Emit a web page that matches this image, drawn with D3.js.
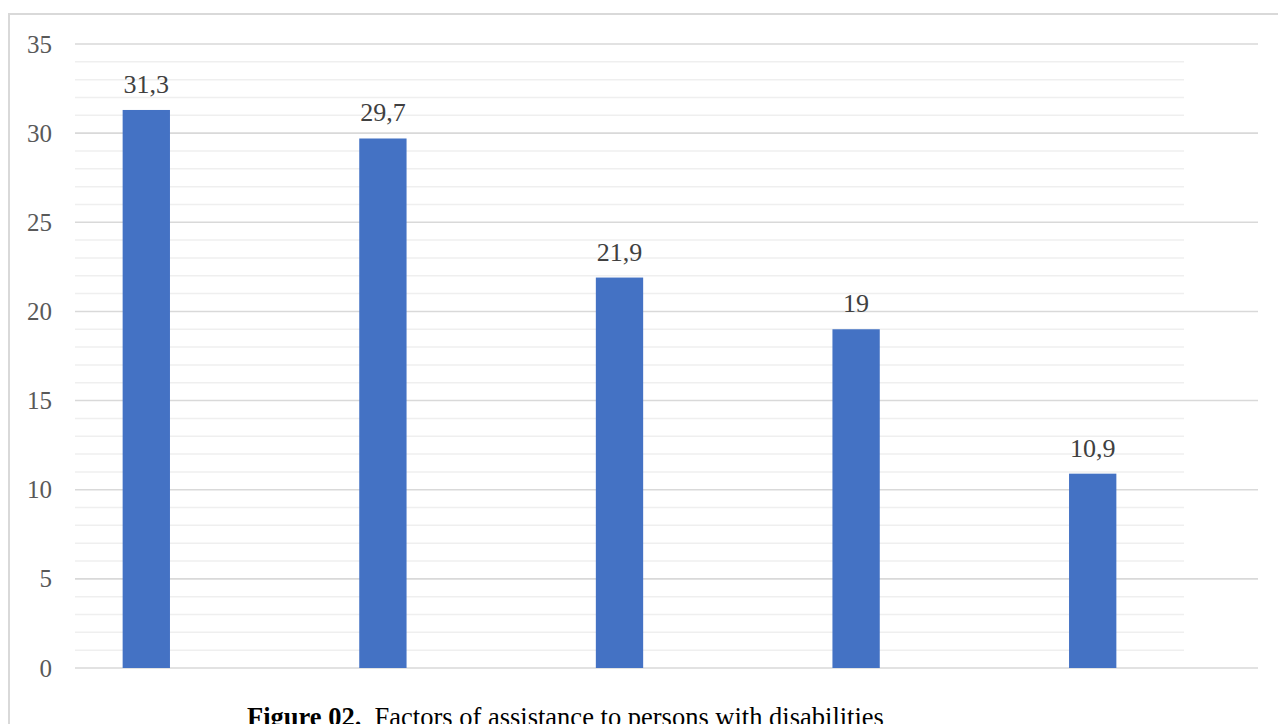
<!DOCTYPE html>
<html>
<head>
<meta charset="utf-8">
<script src="https://cdn.jsdelivr.net/npm/d3@7"></script>
<style>
  html, body { margin: 0; padding: 0; background: #fff; }
  svg { display: block; }
</style>
</head>
<body>
<svg id="chart" width="1278" height="724"></svg>
<script>
const categories = ["1", "2", "3", "4", "5"];
const values = [31.3, 29.7, 21.9, 19, 10.9];
const valueLabels = ["31,3", "29,7", "21,9", "19", "10,9"];
const majorTicks = [0, 5, 10, 15, 20, 25, 30, 35];
const minorTicks = d3.range(0, 36, 1).filter(v => v % 5 !== 0);
const captionBold = "Figure 02.";
const captionText = "  Factors of assistance to persons with disabilities";

const FONT = "'Liberation Serif', Tinos, 'Times New Roman', Times, serif";
const svg = d3.select("#chart");

// frame
svg.append("rect")
  .attr("x", 9).attr("y", 14)
  .attr("width", 1400).attr("height", 800)
  .attr("fill", "none").attr("stroke", "#d9d9d9").attr("stroke-width", 2);

const y = d3.scaleLinear().domain([0, 35]).range([668, 44]);
const x = d3.scaleBand().domain(categories).range([28, 1211])
  .paddingInner(0.8).paddingOuter(0.4);

const gridLeft = 75, majorRight = 1258, minorRight = 1184;

// minor gridlines
svg.append("g").selectAll("line").data(minorTicks).join("line")
  .attr("x1", gridLeft).attr("x2", minorRight)
  .attr("y1", d => y(d)).attr("y2", d => y(d))
  .attr("stroke", "#efefef").attr("stroke-width", 1.5);

// major gridlines
svg.append("g").selectAll("line").data(majorTicks).join("line")
  .attr("x1", gridLeft).attr("x2", majorRight)
  .attr("y1", d => y(d)).attr("y2", d => y(d))
  .attr("stroke", "#d9d9d9").attr("stroke-width", 1.6);

// y axis labels via d3 axis
const yAxis = d3.axisLeft(y).tickValues(majorTicks).tickSize(0).tickPadding(0);
const gy = svg.append("g").attr("transform", "translate(52,0)").call(yAxis);
gy.select(".domain").remove();
gy.attr("font-family", null).attr("font-size", null);
gy.selectAll("text")
  .style("font-family", FONT)
  .style("font-size", "25px").attr("fill", "#595959");

// bars
svg.append("g").selectAll("rect").data(values).join("rect")
  .attr("x", (d, i) => x(categories[i]))
  .attr("width", x.bandwidth())
  .attr("y", d => y(d))
  .attr("height", d => y(0) - y(d))
  .attr("fill", "#4472c4");

// value labels
svg.append("g").selectAll("text").data(values).join("text")
  .attr("x", (d, i) => x(categories[i]) + x.bandwidth() / 2)
  .attr("y", d => y(d) - 17)
  .attr("text-anchor", "middle")
  .style("font-family", FONT)
  .style("font-size", "26px").attr("fill", "#404040")
  .text((d, i) => valueLabels[i]);

// caption
const cap = svg.append("text")
  .attr("x", 247).attr("y", 725.5)
  .style("font-family", FONT)
  .style("font-size", "26.5px").attr("fill", "#000")
  .style("white-space", "pre");
cap.append("tspan").attr("font-weight", "bold").text(captionBold);
cap.append("tspan").text(captionText);
</script>
</body>
</html>
